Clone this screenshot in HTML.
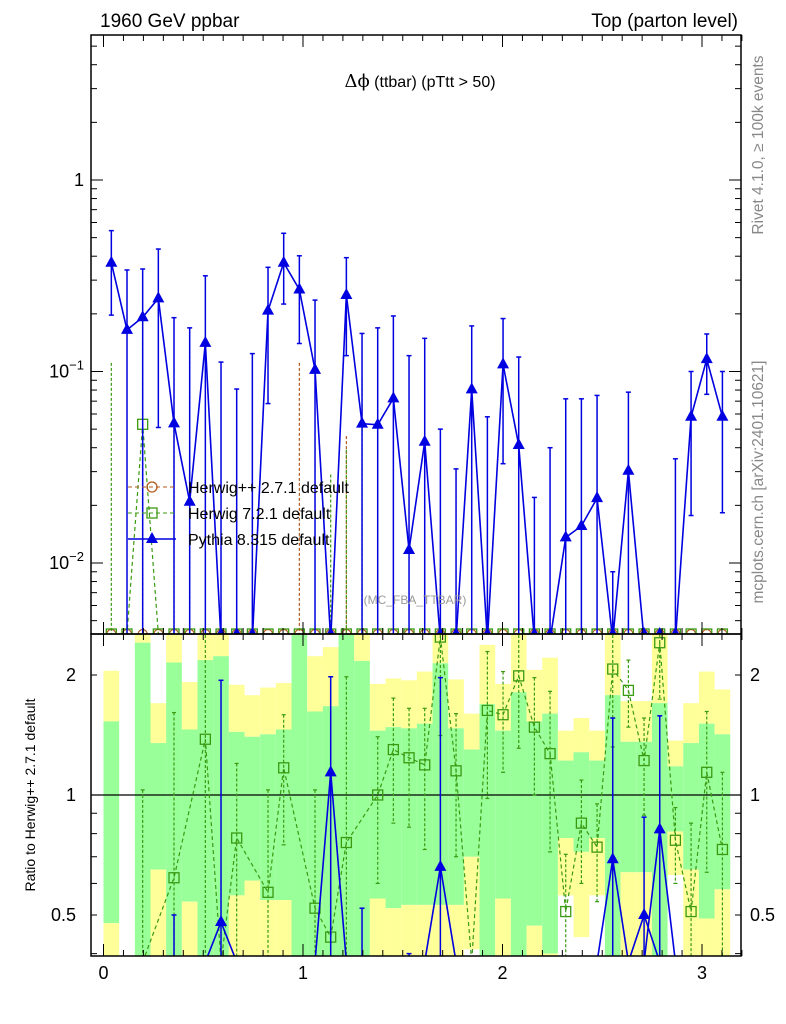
<!DOCTYPE html>
<html><head><meta charset="utf-8"><style>
html,body{margin:0;padding:0;background:#fff;overflow:hidden;width:786px;height:1024px;}
svg{display:block;font-family:"Liberation Sans",sans-serif;}
</style></head><body>
<svg id="chart" width="786" height="1024" xmlns="http://www.w3.org/2000/svg">
<defs>
<clipPath id="cm"><rect x="91" y="35" width="650" height="599"/></clipPath>
<clipPath id="cr"><rect x="91" y="634" width="650" height="322"/></clipPath>
</defs>
<g id="ratioBands" clip-path="url(#cr)"></g>
<g id="mainG" clip-path="url(#cm)"></g>
<g id="ratioG" clip-path="url(#cr)"></g>
<g id="axes"></g>
<text x="100" y="27" font-size="19">1960 GeV ppbar</text>
<text x="738" y="27" font-size="19" text-anchor="end">Top (parton level)</text>
<text x="420" y="87" font-size="16" text-anchor="middle"><tspan font-family="DejaVu Serif, serif" font-size="18">Δϕ</tspan> (ttbar) (pTtt &gt; 50)</text>
<text x="763" y="145" font-size="15.5" fill="#888" text-anchor="middle" transform="rotate(-90 763 145)">Rivet 4.1.0, ≥ 100k events</text>
<text x="763" y="482" font-size="15.5" fill="#888" text-anchor="middle" transform="rotate(-90 763 482)">mcplots.cern.ch [arXiv:2401.10621]</text>
<text x="35" y="795" font-size="14" text-anchor="middle" transform="rotate(-90 35 795)">Ratio to Herwig++ 2.7.1 default</text>
<text x="415" y="604" font-size="12" fill="#999" text-anchor="middle">(MC_FBA_TTBAR)</text>
<g>
<g>
<line x1="128" y1="487" x2="176" y2="487" stroke="#b35a1f" stroke-dasharray="4,3"/>
<circle cx="152" cy="487" r="5" fill="none" stroke="#b35a1f" stroke-width="1.3"/>
<text x="188" y="493" font-size="16">Herwig++ 2.7.1 default</text></g>
<g>
<line x1="128" y1="513" x2="176" y2="513" stroke="#3a9a12" stroke-dasharray="4,3"/>
<rect x="147" y="508" width="10" height="10" fill="none" stroke="#3a9a12" stroke-width="1.3"/>
<text x="188" y="519" font-size="16">Herwig 7.2.1 default</text></g>
<g>
<line x1="128" y1="539" x2="176" y2="539" stroke="#0000e0" stroke-width="1.5"/>
<polygon points="152,532 158,543 146,543" fill="#0000e0"/>
<text x="188" y="545" font-size="16">Pythia 8.315 default</text></g>
</g>
</svg>
<script>
// ---- data ----
const binCount = 40;
const pyVal = [0.370,0.165,0.192,0.241,0.0536,0.0209,0.141,0,0,0,0.208,0.370,0.268,0.102,0,0.251,0.0534,0.0527,0.0724,0.0117,0.043,0,0,0.0807,0,0.109,0.0413,0,0,0.0136,0.0156,0.0218,0,0.0303,0,0,0,0.058,0.116,0.058];
const pyHi = [0.544,0.339,0.343,0.436,0.191,0.169,0.316,0.112,0.081,0.124,0.350,0.527,0.402,0.236,0,0.393,0.158,0.169,0.195,0.121,0.149,0.050,0.031,0.173,0.058,0.189,0.119,0.022,0.040,0.072,0.072,0.075,0.009,0.078,0,0,0.035,0.100,0.157,0.100];
const pyLo = [0.197,0,0,0.051,0,0,0,0,0,0,0.068,0.225,0.140,0,0,0.121,0,0,0,0,0,0,0,0,0,0.033,0,0,0,0,0,0,0,0,0,0,0,0.0177,0.076,0.0183];
const h7Val = [0,0,0.053,0,0,0,0,0,0,0,0,0,0,0,0,0,0,0,0,0,0,0,0,0,0,0,0,0,0,0,0,0,0,0,0,0,0,0,0,0];
const h7Hi = [0.111,0,0.216,0,0.059,0.128,0,0,0,0,0,0,0,0,0.029,0.039,0.092,0,0,0,0,0,0,0,0,0,0,0,0,0,0,0,0,0,0,0,0,0,0,0];
const hppVal = [0,0,0,0,0,0,0,0,0,0,0,0,0,0,0,0,0,0,0,0,0,0,0,0,0,0,0,0,0,0,0,0,0,0,0,0,0,0,0,0];
const hppHi = [0,0,0.040,0,0,0,0,0,0,0,0,0,0.111,0,0,0.046,0,0,0,0,0,0.0094,0,0,0,0,0,0,0,0,0,0,0,0,0,0,0,0,0,0];
// ratio bands (0 = none, 9 = off top, 0.01 = off bottom)
const bandYHi = [2.05,0,9,1.70,9,1.92,9,9,1.89,1.78,1.86,1.91,9,2.23,2.35,9,9,1.90,1.96,1.94,2.04,9,1.95,1.60,2.38,1.90,9,2.06,2.21,1.45,1.56,1.45,9,1.72,1.72,9,1.37,1.70,2.04,1.84];
const bandGHi = [1.53,0,2.41,1.35,2.15,1.46,2.18,2.23,1.44,1.40,1.42,1.46,2.52,1.62,1.67,2.52,2.17,1.45,1.48,1.47,1.51,2.14,1.47,1.30,1.69,1.45,1.81,1.53,1.60,1.22,1.28,1.22,1.78,1.36,1.36,1.70,1.18,1.35,1.51,1.42];
const bandGLo = [0.477,0,0.01,0.65,0.01,0.54,0.01,0.01,0.56,0.61,0.545,0.545,0.01,0.01,0.01,0.01,0.01,0.55,0.52,0.53,0.53,0.53,0.53,0.70,0.01,0.55,0.01,0.47,0.40,0.78,0.72,0.78,0.01,0.64,0.64,0.01,0.81,0.65,0.49,0.58];
const bandYLo = [0.01,0,0.01,0.01,0.01,0.01,0.01,0.01,0.01,0.01,0.01,0.01,0.01,0.01,0.01,0.01,0.01,0.01,0.01,0.01,0.01,0.01,0.01,0.41,0.01,0.01,0.01,0.01,0.01,0.56,0.44,0.56,0.01,0.01,0.01,0.01,0.63,0.01,0.01,0.01];
const h7Ratio = [0,0,0.3,0,0.62,0,1.38,0.3,0.78,0,0.57,1.17,0,0.52,0.44,0.76,0,1.0,1.30,1.24,1.19,2.49,1.15,0.3,1.63,1.59,1.99,1.48,1.27,0.51,0.85,0.74,2.07,1.83,1.22,2.41,0.77,0.51,1.14,0.73];
const h7RHi = [0,0,1.03,0,1.61,0,9,0,1.20,0,1.03,1.59,0,1.03,0,1.98,0,1.40,1.75,1.65,1.65,9,1.60,0,2.29,2.04,9,1.97,1.82,0.71,1.09,0.95,9,2.18,1.56,9,0.93,0.85,1.62,1.14];
const h7RLo = [0,0,0.01,0,0.01,0,0.01,0,0.01,0,0.01,0.75,0,0.01,0,0.01,0,0.60,0.85,0.83,0.73,1.41,0.70,0,0.98,1.14,1.31,1.0,0.72,0.01,0.60,0.54,1.32,1.48,0.89,1.74,0.60,0.01,0.64,0.01];
const pyRatio = [0,0,0,0,0.3,0,0,0.48,0,0,0,0,0,0,1.14,0,0.3,0,0,0.3,0,0.66,0,0,0,0,0,0,0,0,0,0,0.69,0,0.50,0.82,0,0,0,0];
const pyRHi = [0,0,0,0,0.50,0,0,1.94,0,0,0,0,0,0,1.98,0,0.52,0,0,0.40,0,1.97,0,0,0,0,0,0,0,0,0,0,1.56,0,0.88,1.58,0,0,0,0];
const xTicks = [0,1,2,3];
const ratioTicks = [0.5,1,2];
// ---- axes functions ----
const NS="http://www.w3.org/2000/svg";
const X0=103.5, XS=199.5, BW=Math.PI/binCount;
const xp = v => X0 + v*XS;
const ym = v => 180 - 191.5*Math.log10(v);
const MAINBOT=640, RBOT=962;
const yr = v => Math.min(RBOT, Math.max(610, 795 - 398.6*Math.log10(v)));
function el(tag, attrs, parent){const e=document.createElementNS(NS,tag);for(const k in attrs)e.setAttribute(k,attrs[k]);parent.appendChild(e);return e;}
const mainG=document.getElementById('mainG'), ratioG=document.getElementById('ratioG'), bandG=document.getElementById('ratioBands'), axes=document.getElementById('axes');
const cx = i => xp((i+0.5)*BW);
const my = v => v>0 ? Math.min(MAINBOT, ym(v)) : MAINBOT;
// bands
for(let i=0;i<binCount;i++){
  if(!bandGHi[i]) continue;
  const x1=xp(i*BW), w=xp((i+1)*BW)-x1;
  const top=bandYHi[i]>=9?610:yr(bandYHi[i]), gt=yr(bandGHi[i]), gb=yr(bandGLo[i]), bt=yr(bandYLo[i]);
  const r1=el('rect',{x:x1,y:top,width:w,height:gt-top,fill:'#ffff99'},bandG);
  
  
  const r2=el('rect',{x:x1,y:gt,width:w,height:gb-gt,fill:'#99ff99'},bandG);
  
  
  const r3=el('rect',{x:x1,y:gb,width:w,height:Math.max(0,bt-gb),fill:'#ffff99'},bandG);
  
  
}
el('line',{x1:91,x2:741,y1:yr(1),y2:yr(1),stroke:'#000','stroke-width':1.2},ratioG);
// main: herwig++
for(let i=0;i<binCount;i++){
  if(hppHi[i]>0){const l=el('line',{x1:cx(i),x2:cx(i),y1:my(hppHi[i]),y2:MAINBOT,stroke:'#b35a1f','stroke-dasharray':'3,2','stroke-width':1.2},mainG);
  
  }
  const c=el('circle',{cx:cx(i),cy:hppVal[i]>0?my(hppVal[i]):634,r:4.5,fill:'none',stroke:'#b35a1f','stroke-width':1.2},mainG);
  
  
}
// main: herwig 7
let pts=[];
for(let i=0;i<binCount;i++){
  pts.push(cx(i)+','+(h7Val[i]>0?my(h7Val[i]):634));
  if(h7Hi[i]>0){const l=el('line',{x1:cx(i),x2:cx(i),y1:my(h7Hi[i]),y2:MAINBOT,stroke:'#3a9a12','stroke-dasharray':'3,2','stroke-width':1.2},mainG);
  
  }
}
const h7line=el('polyline',{points:pts.join(' '),fill:'none',stroke:'#3a9a12','stroke-dasharray':'4,3','stroke-width':1.2},mainG);


for(let i=0;i<binCount;i++){
  const y=h7Val[i]>0?my(h7Val[i]):634;
  const s=el('rect',{x:cx(i)-5,y:y-5,width:10,height:10,fill:'none',stroke:'#3a9a12','stroke-width':1.3},mainG);
  
  
}
// main: pythia
pts=[];
for(let i=0;i<binCount;i++){
  pts.push(cx(i)+','+my(pyVal[i]));
  if(pyHi[i]>0){
    const y1=my(pyHi[i]), y2=pyLo[i]>0?my(pyLo[i]):MAINBOT;
    const l=el('line',{x1:cx(i),x2:cx(i),y1:y1,y2:y2,stroke:'#0000e0','stroke-width':1.5},mainG);
    
    
    el('line',{x1:cx(i)-2.5,x2:cx(i)+2.5,y1:y1,y2:y1,stroke:'#0000e0','stroke-width':1.5},mainG);
    if(pyLo[i]>0) el('line',{x1:cx(i)-2.5,x2:cx(i)+2.5,y1:y2,y2:y2,stroke:'#0000e0','stroke-width':1.5},mainG);
  }
}
const pyline=el('polyline',{points:pts.join(' '),fill:'none',stroke:'#0000e0','stroke-width':1.6},mainG);


for(let i=0;i<binCount;i++){
  const x=cx(i), y=pyVal[i]>0?my(pyVal[i]):634;
  const t=el('polygon',{points:`${x},${y-7} ${x+6},${y+4} ${x-6},${y+4}`,fill:'#0000e0'},mainG);
  
  
}
// ratio: herwig 7
pts=[];
for(let i=0;i<binCount;i++){
  if(h7Ratio[i]>0) pts.push(cx(i)+','+yr(h7Ratio[i]));
  if(h7RHi[i]>0){
    const y1=h7RHi[i]>=9?610:yr(h7RHi[i]), y2=yr(h7RLo[i]);
    const l=el('line',{x1:cx(i),x2:cx(i),y1:y1,y2:y2,stroke:'#3a9a12','stroke-dasharray':'3,2','stroke-width':1.2},ratioG);
    
    
    el('line',{x1:cx(i)-2,x2:cx(i)+2,y1:y1,y2:y1,stroke:'#3a9a12','stroke-width':1.2},ratioG);
    el('line',{x1:cx(i)-2,x2:cx(i)+2,y1:y2,y2:y2,stroke:'#3a9a12','stroke-width':1.2},ratioG);
  }
}
const h7r=el('polyline',{points:pts.join(' '),fill:'none',stroke:'#3a9a12','stroke-dasharray':'4,3','stroke-width':1.2},ratioG);


for(let i=0;i<binCount;i++){
  if(!(h7Ratio[i]>0)) continue;
  const y=yr(h7Ratio[i]);
  const s=el('rect',{x:cx(i)-5,y:y-5,width:10,height:10,fill:'none',stroke:'#3a9a12','stroke-width':1.3},ratioG);
  
  
}
// ratio: pythia
for(let i=0;i<binCount;i++){
  if(!(pyRatio[i]>0)) continue;
  const x=cx(i), y=yr(pyRatio[i]);
  const l=el('polyline',{points:`${cx(i-1)},${RBOT} ${x},${y} ${cx(i+1)},${RBOT}`,fill:'none',stroke:'#0000e0','stroke-width':1.6},ratioG);
  
  
  const yh=yr(pyRHi[i]);
  el('line',{x1:x,x2:x,y1:yh,y2:RBOT,stroke:'#0000e0','stroke-width':1.5},ratioG);
  el('line',{x1:x-2.5,x2:x+2.5,y1:yh,y2:yh,stroke:'#0000e0','stroke-width':1.5},ratioG);
  const t=el('polygon',{points:`${x},${y-7} ${x+6},${y+4} ${x-6},${y+4}`,fill:'#0000e0'},ratioG);
  
  
}
// frames
el('rect',{x:91,y:35,width:650,height:599,fill:'none',stroke:'#000','stroke-width':1.5},axes);
el('rect',{x:91,y:634,width:650,height:322,fill:'none',stroke:'#000','stroke-width':1.5},axes);
// x ticks
for(let k=0;k<=32;k++){
  const v=k*0.1, x=xp(v), major=(k%10===0), len=major?12:6;
  for(const [yb,dir] of [[956,-1],[634,-1],[634,1],[35,1]]){
    el('line',{x1:x,x2:x,y1:yb,y2:yb+dir*len,stroke:'#000','stroke-width':1},axes);
  }
}
xTicks.forEach(v=>{
  const t=el('text',{x:xp(v),y:979,'font-size':18,'text-anchor':'middle'},axes);
  t.textContent=String(v);
  
  
});
// main y ticks
for(let d=-3;d<=0;d++){
  for(let m=1;m<=9;m++){
    const v=m*Math.pow(10,d), y=ym(v);
    if(y<35||y>634) continue;
    const len=m===1?12:6;
    el('line',{x1:91,x2:91+len,y1:y,y2:y,stroke:'#000'},axes);
    el('line',{x1:741,x2:741-len,y1:y,y2:y,stroke:'#000'},axes);
  }
}
const lab=(txt,y,sup)=>{const t=el('text',{x:84,y:y+6,'font-size':18,'text-anchor':'end'},axes);
  if(sup){t.textContent='10';const s=el('tspan',{dy:-8,'font-size':13},t);s.textContent=sup;}else t.textContent=txt;
  
  };
lab('1',ym(1));
lab('',ym(0.1),'−1');
lab('',ym(0.01),'−2');
// ratio ticks
for(let d=-1;d<=0;d++){
  for(let m=1;m<=9;m++){
    const v=m*Math.pow(10,d), y=795 - 398.6*Math.log10(v);
    if(y<634||y>956) continue;
    const len=(v===1)?12:6;
    el('line',{x1:91,x2:91+len,y1:y,y2:y,stroke:'#000'},axes);
    el('line',{x1:741,x2:741-len,y1:y,y2:y,stroke:'#000'},axes);
  }
}
ratioTicks.forEach(v=>{
  for(const [x,a] of [[76,'end'],[750,'start']]){
    const t=el('text',{x:x,y:yr(v)+6,'font-size':18,'text-anchor':a},axes);
    t.textContent=String(v);
    
    
  }
});
</script>
</body></html>
